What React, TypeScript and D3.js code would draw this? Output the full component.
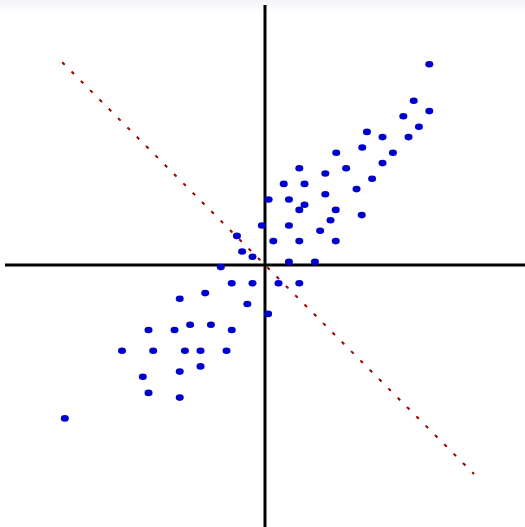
import React from "react";
import * as d3 from "d3";

// Centered sample coordinates (x, y)
const xs: number[] = [
  3.16, 2.86, 3.16, 2.66, 2.96, 1.96, 2.26, 2.76, 1.87, 1.37, 2.46, 0.66, 1.56,
  2.26, 1.16, 0.36, 0.76, 2.06, 1.16, 1.76, 0.07, 0.46, 0.76, 0.66, 1.36, 1.86,
  1.26, -0.06, 0.46, 1.06, -0.54, 0.16, 0.66, 1.36, -0.44, -0.24, 0.46, 0.96,
  -0.85, -0.64, -0.24, 0.26, 0.66, -1.64, -1.15, -0.34, 0.06, -2.24, -1.74,
  -1.44, -1.04, -0.64, -2.75, -2.15, -1.54, -1.24, -0.74, -1.24, -1.64, -2.35,
  -2.24, -1.64, -3.85,
];
const ys: number[] = [
  3.86, 3.16, 2.96, 2.86, 2.66, 2.56, 2.46, 2.46, 2.26, 2.16, 2.16, 1.86, 1.86,
  1.96, 1.76, 1.56, 1.56, 1.66, 1.36, 1.46, 1.26, 1.26, 1.16, 1.06, 1.06, 0.96,
  0.86, 0.76, 0.76, 0.66, 0.56, 0.46, 0.46, 0.46, 0.26, 0.16, 0.06, 0.06, -0.04,
  -0.35, -0.35, -0.35, -0.35, -0.65, -0.54, -0.75, -0.94, -1.25, -1.25, -1.15,
  -1.15, -1.25, -1.65, -1.65, -1.65, -1.65, -1.65, -1.95, -2.05, -2.15, -2.46,
  -2.55, -2.95,
];

// Direction line through the origin (endpoints in data units)
const dirStart: [number, number] = [-3.9, 3.9];
const dirEnd: [number, number] = [4.02, -4.02];

const domain: [number, number] = [-5, 5];

export default function App() {
  const width = 525;
  const height = 527;
  const sx = d3.scaleLinear().domain(domain).range([5, 525]);
  const sy = d3.scaleLinear().domain(domain).range([525, 5]);

  const line = d3
    .line<[number, number]>()
    .x((d) => sx(d[0]))
    .y((d) => sy(d[1]));

  const points = xs.map((x, i) => [x, ys[i]] as [number, number]);

  return (
    <svg
      width={width}
      height={height}
      style={{ position: "absolute", left: 0, top: 0, display: "block" }}
    >
      <defs>
        <linearGradient id="topfade" x1="0" y1="0" x2="0" y2="1">
          <stop offset="0%" stopColor="#f3f3fb" />
          <stop offset="100%" stopColor="#ffffff" />
        </linearGradient>
      </defs>
      <rect x={0} y={0} width={width} height={height} fill="#ffffff" />
      <rect x={0} y={0} width={width} height={12} fill="url(#topfade)" />

      {/* axes */}
      <line
        x1={sx(-5)}
        x2={sx(5)}
        y1={sy(0)}
        y2={sy(0)}
        stroke="#000"
        strokeWidth={3}
      />
      <line
        x1={sx(0)}
        x2={sx(0)}
        y1={sy(5)}
        y2={sy(-5.1)}
        stroke="#000"
        strokeWidth={3}
      />

      {/* direction line */}
      <path
        d={line([dirStart, dirEnd]) ?? ""}
        fill="none"
        stroke="#990000"
        strokeWidth={2}
        strokeDasharray="3.5 9.68"
      />

      {/* samples */}
      {points.map((p, i) => (
        <ellipse
          key={i}
          cx={sx(p[0])}
          cy={sy(p[1])}
          rx={4}
          ry={3.3}
          fill="#0000cc"
        />
      ))}
    </svg>
  );
}
